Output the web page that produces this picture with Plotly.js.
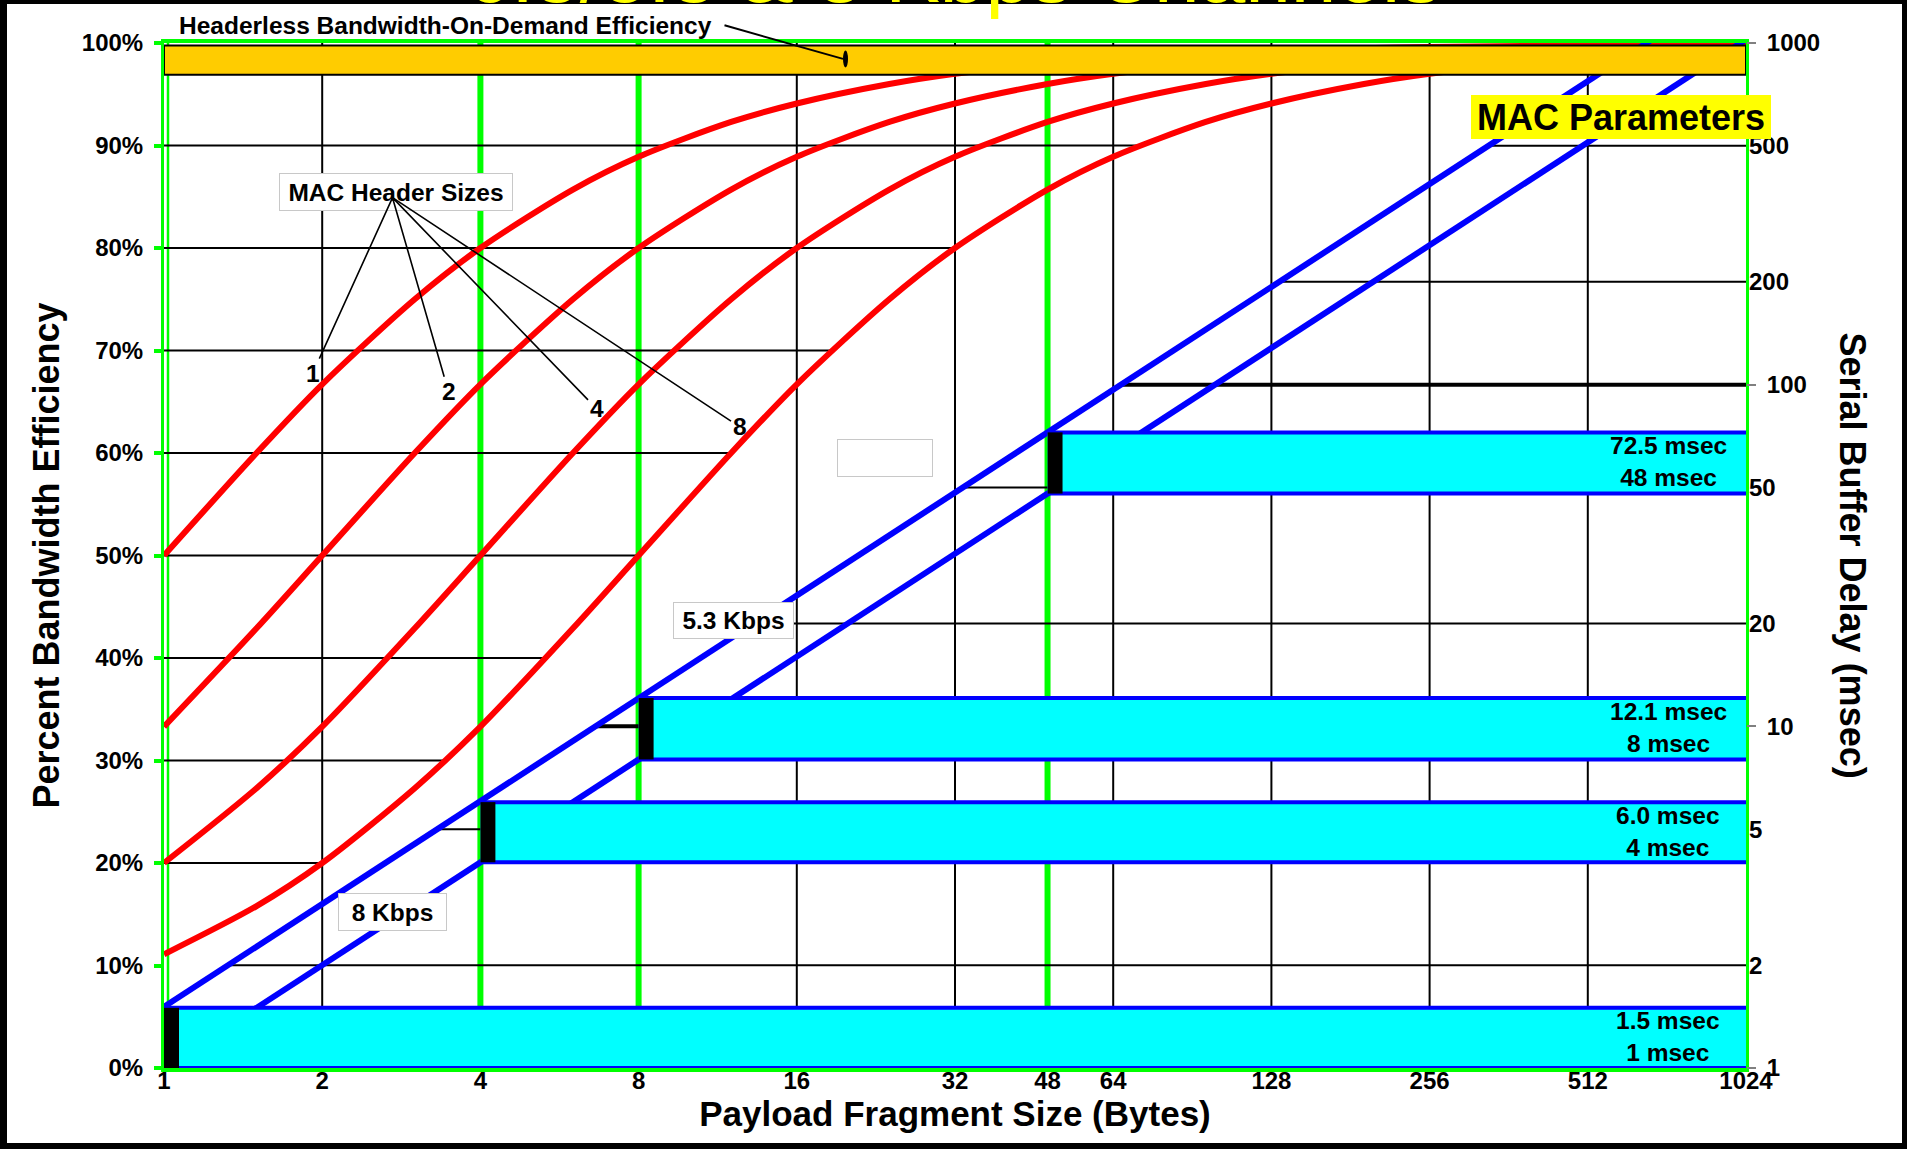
<!DOCTYPE html>
<html>
<head>
<meta charset="utf-8">
<script src="https://cdn.plot.ly/plotly-3.0.1.min.js"></script>
<style>
html,body{margin:0;padding:0;background:#000;overflow:hidden;}
#bg{position:absolute;left:7px;top:4px;width:1895px;height:1139px;background:#fff;}
#chart{position:absolute;left:0;top:0;width:1907px;height:1149px;}
</style>
</head>
<body>
<div id="bg"></div>
<div id="chart"></div>
<script>
// ---------- data ----------
const payloadSizes = [1,1.5,2,3,4,6,8,12,16,24,32,48,64,96,128,192,256,384,512,768,1024];
// percent bandwidth efficiency for MAC header sizes 1, 2, 4, 8 bytes
const effHeader1 = [50,60,66.7,75,80,85.7,88.9,92.3,94.1,96,97,98,98.5,99,99.2,99.5,99.6,99.7,99.8,99.9,99.9];
const effHeader2 = [33.3,42.9,50,60,66.7,75,80,85.7,88.9,92.3,94.1,96,97,98,98.5,99,99.2,99.5,99.6,99.7,99.8];
const effHeader4 = [20,27.3,33.3,42.9,50,60,66.7,75,80,85.7,88.9,92.3,94.1,96,97,98,98.5,99,99.2,99.5,99.6];
const effHeader8 = [11.1,15.8,20,27.3,33.3,42.9,50,60,66.7,75,80,85.7,88.9,92.3,94.1,96,97,98,98.5,99,99.2];
const headerSizes = ['1','2','4','8'];

// serial buffer delay (msec) lines
const delaySizes = [1,2,4,8,16,32,48,64,128,256,512,1024];
const delay53Kbps = [1.51,3.02,6.04,12.1,24.2,48.3,72.5,96.6,193,386,773,1546];
const delay8Kbps  = [1,2,4,8,16,32,48,64,128,256,512,1024];

// MAC parameter bands (payload size where band starts, low/high delay in msec)
const bandStart = [1,4,8,48];
const bandLow   = [1,4,8,48];
const bandHigh  = [1.5,6.0,12.1,72.5];
const bandHighText = ['1.5 msec','6.0 msec','12.1 msec','72.5 msec'];
const bandLowText  = ['1 msec','4 msec','8 msec','48 msec'];

// headerless bandwidth-on-demand efficiency band (percent)
const headerlessBand = [96.9, 99.75];

// ticks
const xTickVals = [1,2,4,8,16,32,48,64,128,256,512,1024];
const xTickText = ['1','2','4','8','16','32','48','64','128','256','512','1024'];
const effTickVals = [0,10,20,30,40,50,60,70,80,90,100];
const effTickText = ['0%','10%','20%','30%','40%','50%','60%','70%','80%','90%','100%'];
const delayMajorVals = [1,10,100,1000];
const delayMajorText = ['1','10','100','1000'];
const delayMinorVals = [2,5,20,50,200,500];
const delayMinorText = ['2','5','20','50','200','500'];
const blackGridX = [2,16,32,64,128,256,512];
const greenGridX = [4,8,48];
const delayGridVals = [2,5,10,20,50,100,200,500];

// ---------- helpers ----------
const FONT = "'Liberation Sans', Arial, Helvetica, sans-serif";
const bold = (size, color) => ({family: FONT, size: size, color: color || '#000', weight: 700});
const L10 = Math.log10;

// x (payload) where series crosses target, interpolated in log-x (and optionally log-y)
function crossX(xs, ys, target, logY) {
  for (let i = 0; i < xs.length - 1; i++) {
    const a = logY ? Math.log(ys[i]) : ys[i];
    const b = logY ? Math.log(ys[i+1]) : ys[i+1];
    const t = logY ? Math.log(target) : target;
    if ((a - t) * (b - t) <= 0 && a !== b) {
      const f = (t - a) / (b - a);
      return Math.exp(Math.log(xs[i]) + f * (Math.log(xs[i+1]) - Math.log(xs[i])));
    }
  }
  return null;
}

// ---------- traces ----------
const traces = [];
[effHeader1, effHeader2, effHeader4, effHeader8].forEach((eff, i) => {
  traces.push({
    x: payloadSizes, y: eff, type: 'scatter', mode: 'lines',
    name: 'MAC header ' + headerSizes[i],
    line: {color: '#FF0000', width: 6, shape: 'spline', smoothing: 0.8},
    xaxis: 'x', yaxis: 'y', hoverinfo: 'skip', showlegend: false
  });
});
traces.push({x: delaySizes, y: delay53Kbps, type: 'scatter', mode: 'lines', name: '5.3 Kbps',
  line: {color: '#0000FF', width: 6}, xaxis: 'x', yaxis: 'y2', hoverinfo: 'skip', showlegend: false});
traces.push({x: delaySizes, y: delay8Kbps, type: 'scatter', mode: 'lines', name: '8 Kbps',
  line: {color: '#0000FF', width: 6}, xaxis: 'x', yaxis: 'y2', hoverinfo: 'skip', showlegend: false});
// anchor trace for the minor-label axis
traces.push({x: [1], y: [1], type: 'scatter', mode: 'markers', marker: {opacity: 0},
  xaxis: 'x', yaxis: 'y3', hoverinfo: 'skip', showlegend: false});

// ---------- shapes ----------
const shapes = [];
// left-axis (percent) grid lines, running until they meet the 8-byte header curve
effTickVals.slice(1, -1).forEach(p => {
  const xe = crossX(payloadSizes, effHeader8, p, false);
  if (xe !== null) shapes.push({type: 'line', layer: 'below', xref: 'x', yref: 'y',
    x0: 1, x1: xe, y0: p, y1: p, line: {color: '#000', width: 2}});
});
// right-axis (delay) grid lines, starting where the 5.3 Kbps line meets them
delayGridVals.forEach(d => {
  const xs = crossX(delaySizes, delay53Kbps, d, true);
  if (xs !== null) shapes.push({type: 'line', layer: 'below', xref: 'x', yref: 'y2',
    x0: xs, x1: 1024, y0: d, y1: d,
    line: {color: '#000', width: (d === 10 || d === 100) ? 4 : 2}});
});
// vertical grid lines
blackGridX.forEach(v => shapes.push({type: 'line', layer: 'below', xref: 'x', yref: 'paper',
  x0: v, x1: v, y0: 0, y1: 1, line: {color: '#000', width: 2}}));
greenGridX.forEach(v => shapes.push({type: 'line', layer: 'below', xref: 'x', yref: 'paper',
  x0: v, x1: v, y0: 0, y1: 1, line: {color: '#00FF00', width: 6}}));
// inner green line beside the left axis
shapes.push({type: 'line', layer: 'below', xref: 'x', xsizemode: 'pixel', xanchor: 1, x0: 4, x1: 4,
  yref: 'paper', y0: 0, y1: 1, line: {color: '#00FF00', width: 2.5}});

// MAC parameter bands (cyan), borders and black start markers
bandStart.forEach((s, i) => {
  shapes.push({type: 'rect', layer: 'above', xref: 'x', yref: 'y2', x0: s, x1: 1024,
    y0: bandLow[i], y1: bandHigh[i], fillcolor: '#00FFFF', line: {width: 0}});
});
bandStart.forEach((s, i) => {
  [bandLow[i], bandHigh[i]].forEach(v => shapes.push({type: 'line', layer: 'above', xref: 'x', yref: 'y2',
    x0: s, x1: 1024, y0: v, y1: v, line: {color: '#0000FF', width: 4}}));
});
bandStart.forEach((s, i) => {
  shapes.push({type: 'rect', layer: 'above', xref: 'x', xsizemode: 'pixel', xanchor: s, x0: -2, x1: 15,
    yref: 'y2', y0: bandLow[i], y1: bandHigh[i], fillcolor: '#000', line: {width: 0}});
});
// headerless bandwidth-on-demand efficiency bar
shapes.push({type: 'rect', layer: 'above', xref: 'x', yref: 'y', x0: 1, x1: 1024,
  y0: headerlessBand[0], y1: headerlessBand[1], fillcolor: '#FFCC00', line: {color: '#000', width: 2}});
// dot on the bar
shapes.push({type: 'circle', layer: 'above', xref: 'x', xsizemode: 'pixel', xanchor: 19.59, x0: -5, x1: 5,
  yref: 'y', ysizemode: 'pixel', yanchor: 98.45, y0: -8.5, y1: 8.5, fillcolor: '#000', line: {width: 0}});

// ---------- annotations ----------
const annotations = [];
annotations.push({text: 'Headerless Bandwidth-On-Demand Efficiency', xref: 'x', x: 0, xanchor: 'left', xshift: 13,
  yref: 'paper', y: 1, yanchor: 'middle', yshift: 18, showarrow: false, font: bold(24.5)});
annotations.push({text: '', xref: 'x', x: L10(19.59), yref: 'y', y: 98.45, showarrow: true,
  ax: -120, ay: -34, arrowhead: 0, arrowwidth: 2, arrowcolor: '#000', standoff: 0});

// label boxes
annotations.push({text: 'MAC Header Sizes', xref: 'x', x: L10(2.761), yref: 'y', y: 85.48,
  showarrow: false, font: bold(24.5), bgcolor: '#fff', bordercolor: '#c8c8c8', borderwidth: 1,
  borderpad: 3, width: 226, height: 30});
annotations.push({text: '8 Kbps', xref: 'x', x: L10(2.719), yref: 'y', y: 15.2,
  showarrow: false, font: bold(24.5), bgcolor: '#fff', bordercolor: '#c8c8c8', borderwidth: 1,
  borderpad: 3, width: 101, height: 30});
annotations.push({text: '5.3 Kbps', xref: 'x', x: L10(12.13), yref: 'y', y: 43.65,
  showarrow: false, font: bold(24.5), bgcolor: '#fff', bordercolor: '#c8c8c8', borderwidth: 1,
  borderpad: 3, width: 113, height: 29});
annotations.push({text: ' ', xref: 'x', x: L10(23.53), yref: 'y', y: 59.48,
  showarrow: false, font: bold(24), bgcolor: '#fff', bordercolor: '#c8c8c8', borderwidth: 1,
  borderpad: 3, width: 88, height: 30});
annotations.push({text: 'MAC Parameters', xref: 'x', x: L10(591.7), yref: 'y', y: 92.75,
  showarrow: false, font: bold(36), bgcolor: '#FFFF00', borderwidth: 0, borderpad: 1, width: 298, height: 42});

// header size numbers with leader lines
const leaderOffsets = [[-80, 176], [56, 194], [204, 211], [347, 229]];
headerSizes.forEach((h, i) => {
  annotations.push({text: h, xref: 'x', x: L10(2.7217), yref: 'y', y: 84.91, showarrow: true,
    ax: leaderOffsets[i][0], ay: leaderOffsets[i][1], arrowhead: 0, arrowwidth: 1.6, arrowcolor: '#000',
    standoff: 0, font: bold(24.5)});
});

// band labels
bandStart.forEach((s, i) => {
  annotations.push({text: bandHighText[i] + '<br>' + bandLowText[i], xref: 'x', x: L10(1024), xanchor: 'center',
    xshift: -78, yref: 'y2', y: L10(Math.sqrt(bandLow[i] * bandHigh[i])), yanchor: 'middle', yshift: 1,
    showarrow: false, font: bold(24.5), align: 'center'});
});

// right axis title (reads top to bottom)
annotations.push({text: 'Serial Buffer Delay (msec)', xref: 'paper', x: 1, xshift: 106, xanchor: 'center',
  yref: 'paper', y: 0.5, yanchor: 'middle', textangle: 90, showarrow: false, font: bold(36)});

// ---------- layout ----------
const layout = {
  width: 1907, height: 1149,
  margin: {l: 164, r: 161, t: 43, b: 81, pad: 0},
  paper_bgcolor: 'rgba(0,0,0,0)', plot_bgcolor: '#fff',
  showlegend: false, hovermode: false,
  title: {text: '6.3/5.3 & 8 Kbps Channels', font: {family: FONT, size: 82, color: '#FFFF00'},
    xref: 'container', x: 0.5, xanchor: 'center', yref: 'container', y: 1 - 2/1149, yanchor: 'bottom'},
  xaxis: {type: 'log', range: [0, L10(1024)], tickmode: 'array', tickvals: xTickVals, ticktext: xTickText,
    showgrid: false, zeroline: false, showline: true, linecolor: '#00FF00', linewidth: 4, mirror: true,
    ticks: '', tickfont: bold(24), ticklabelstandoff: -12, fixedrange: true,
    title: {text: 'Payload Fragment Size (Bytes)', font: bold(35), standoff: 0}},
  yaxis: {range: [0, 100], tickmode: 'array', tickvals: effTickVals, ticktext: effTickText,
    showgrid: false, zeroline: false, showline: true, linecolor: '#00FF00', linewidth: 3, mirror: true,
    ticks: 'outside', ticklen: 7, tickwidth: 4, tickcolor: '#00FF00', tickfont: bold(24),
    ticklabelstandoff: 6, fixedrange: true,
    title: {text: 'Percent Bandwidth Efficiency', font: bold(36), standoff: 12}},
  yaxis2: {type: 'log', range: [0, 3], overlaying: 'y', side: 'right', tickmode: 'array',
    tickvals: delayMajorVals, ticktext: delayMajorText, showgrid: false, zeroline: false, showline: false,
    ticks: 'outside', ticklen: 9, tickwidth: 2, tickcolor: '#808080', tickfont: bold(24),
    ticklabelstandoff: 6, fixedrange: true},
  yaxis3: {type: 'log', range: [0, 3], overlaying: 'y', side: 'right', tickmode: 'array',
    tickvals: delayMinorVals, ticktext: delayMinorText, showgrid: false, zeroline: false, showline: false,
    ticks: '', tickfont: bold(24), ticklabelstandoff: 2, fixedrange: true},
  shapes: shapes,
  annotations: annotations
};

Plotly.newPlot('chart', traces, layout, {displayModeBar: false, staticPlot: true});
</script>
</body>
</html>
